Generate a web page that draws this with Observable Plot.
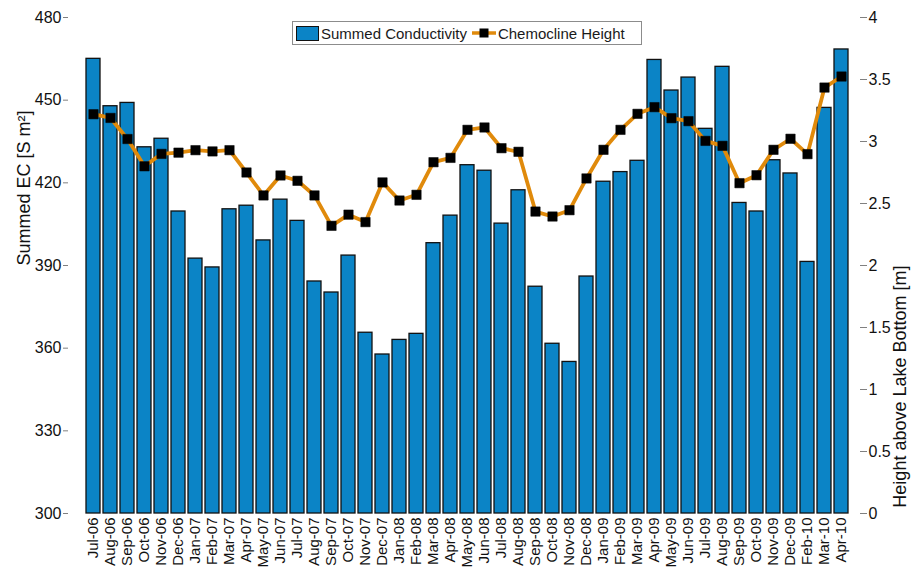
<!DOCTYPE html>
<html><head><meta charset="utf-8">
<script src="https://cdn.jsdelivr.net/npm/d3@7"></script>
<script src="https://cdn.jsdelivr.net/npm/@observablehq/plot@0.6"></script>
<style>
body{margin:0;background:#fff;}
#wrap{position:relative;width:912px;height:569px;font-family:"Liberation Sans",Arial,sans-serif;}
#legend{position:absolute;left:292px;top:21px;width:350px;height:24px;border:1px solid #8c8c8c;background:#fff;box-sizing:border-box;display:flex;align-items:center;font-size:15px;color:#1a1a1a;white-space:nowrap;}
#legend .sw{width:23px;height:15px;background:#0b84c6;border:1.3px solid #111;box-sizing:border-box;margin-left:3px;margin-right:2px;}
#legend svg{margin:0 2px 0 5px;}
</style></head><body><div id="wrap"><div id="legend"><div class="sw"></div><span>Summed Conductivity</span><svg width="24" height="12"><line x1="0" y1="6" x2="24" y2="6" stroke="#e08a0b" stroke-width="3.5"/><rect x="7.5" y="1.5" width="9" height="9" fill="#000"/></svg><span>Chemocline Height</span></div></div>
<script>
const months = ["Jul-06","Aug-06","Sep-06","Oct-06","Nov-06","Dec-06",
  "Jan-07","Feb-07","Mar-07","Apr-07","May-07","Jun-07","Jul-07","Aug-07","Sep-07","Oct-07","Nov-07","Dec-07",
  "Jan-08","Feb-08","Mar-08","Apr-08","May-08","Jun-08","Jul-08","Aug-08","Sep-08","Oct-08","Nov-08","Dec-08",
  "Jan-09","Feb-09","Mar-09","Apr-09","May-09","Jun-09","Jul-09","Aug-09","Sep-09","Oct-09","Nov-09","Dec-09",
  "Feb-10","Mar-10","Apr-10"];
const conductivity = [465,447.8,449,432.9,436,409.6,
  392.5,389.3,410.4,411.7,399.1,413.9,406.2,384.2,380.2,393.6,365.6,357.7,
  363,365.2,398.1,408.1,426.4,424.4,405.2,417.3,382.3,361.6,355,386,
  420.4,423.9,428,464.6,453.5,458.2,439.6,462.1,412.7,409.6,428.2,423.4,
  391.3,447.2,468.4];
const chemocline = [3.22,3.19,3.02,2.80,2.90,2.91,
  2.93,2.92,2.93,2.75,2.565,2.726,2.683,2.565,2.32,2.41,2.35,2.67,
  2.524,2.57,2.833,2.868,3.094,3.113,2.946,2.917,2.435,2.395,2.446,2.702,
  2.933,3.094,3.223,3.277,3.188,3.164,3.005,2.965,2.664,2.728,2.933,3.022,
  2.898,3.435,3.524];
const ecTicks = [300,330,360,390,420,450,480];
const heightTicks = [0,0.5,1,1.5,2,2.5,3,3.5,4];
const ecDomain = [300,480];
const heightDomain = [0,4];
const leftLabel = "Summed EC [S m²]";
const rightLabel = "Height above Lake Bottom [m]";

const k = (ecDomain[1]-ecDomain[0])/(heightDomain[1]-heightDomain[0]);
const toEC = h => ecDomain[0] + (h - heightDomain[0]) * k;
const toH = v => +(heightDomain[0] + (v - ecDomain[0]) / k).toFixed(3);
const data = months.map((m,i)=>({month:m, ec:conductivity[i], h:chemocline[i]}));
const font = "'Liberation Sans', Arial, Helvetica, sans-serif";

const chart = Plot.plot({
  width:912, height:569, marginTop:17, marginBottom:56, marginLeft:68, marginRight:46,
  style:{fontFamily:font, fontSize:"16px", color:"#1a1a1a", background:"transparent"},
  x:{domain:months, type:"band", paddingInner:0.2, paddingOuter:1.05, label:null},
  y:{domain:ecDomain, label:null},
  marks:[
    Plot.barY(data,{x:"month", y1:ecDomain[0], y2:"ec", fill:"#0b84c6", stroke:"#111", strokeWidth:1.3}),
    Plot.line(data,{x:"month", y:d=>toEC(d.h), stroke:"#e08a0b", strokeWidth:3.8}),
    Plot.dot(data,{x:"month", y:d=>toEC(d.h), symbol:"square", r:5.3, fill:"#000", stroke:"#000", strokeWidth:0.5}),
    Plot.axisX({tickRotate:-90, tickSize:0, tickPadding:4, fontSize:15, label:null, line:true, stroke:"#808080", fill:"#111"}),
    Plot.axisY({ticks:ecTicks, tickSize:5, tickPadding:2, line:true, label:null, stroke:"#808080", fill:"#111"}),
    Plot.axisY({anchor:"right", ticks:heightTicks.map(toEC), tickFormat:v=>String(toH(v)), tickSize:-7, tickPadding:9, line:true, label:null, stroke:"#808080", fill:"#111"}),
    Plot.text([leftLabel], {text:d=>d, frameAnchor:"left", rotate:-90, dx:-44, fontSize:18, fill:"#111"}),
    Plot.text([rightLabel], {text:d=>d, frameAnchor:"right", rotate:-90, dx:34, fontSize:18, fill:"#111"})
  ]
});
document.getElementById("wrap").prepend(chart);
chart.style.position="absolute"; chart.style.left="0"; chart.style.top="0";
document.getElementById("legend").style.zIndex="2";
</script></body></html>
